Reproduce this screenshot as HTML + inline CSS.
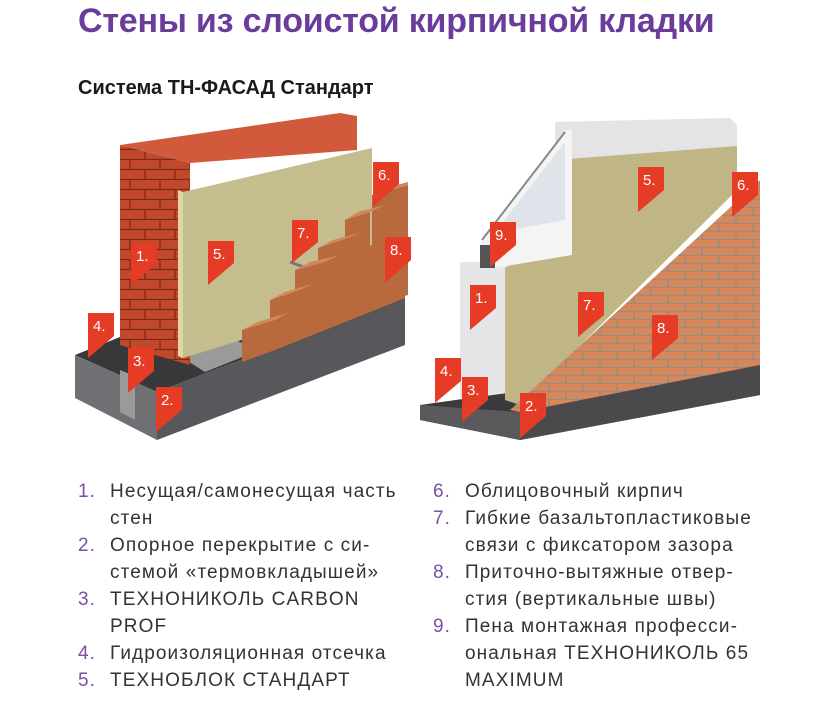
<!DOCTYPE html>
<html><head><meta charset="utf-8"><style>
body{margin:0;width:825px;height:723px;background:#fff;overflow:hidden;position:relative;font-family:"Liberation Sans",sans-serif}
.t{position:absolute;left:78px;top:2px;font-size:34px;font-weight:bold;color:#6a3d9a;white-space:nowrap;letter-spacing:-0.2px}
.s{position:absolute;left:78px;top:77px;font-size:20px;font-weight:bold;color:#1a1a1a;white-space:nowrap}
.l{position:absolute;font-size:19px;color:#333;line-height:27px;letter-spacing:1.1px;white-space:nowrap}
.l div{position:relative;padding-left:32px}
.l span{position:absolute;left:0;color:#7b4fa6}
</style></head><body>
<div class="t">Стены из слоистой кирпичной кладки</div>
<div class="s">Система ТН-ФАСАД Стандарт</div>
<svg width="825" height="723" style="position:absolute;left:0;top:0">
<defs>
<pattern id="br" width="30" height="20" patternUnits="userSpaceOnUse"><rect width="30" height="20" fill="#c2482c"/><path d="M0 9.5H30M0 19.5H30M10 0V9.5M25 9.5V20" stroke="#7a2a1a" stroke-width="1.2"/></pattern>
<pattern id="br2" width="34" height="16" patternUnits="userSpaceOnUse"><rect width="34" height="16" fill="#d8875a"/><path d="M0 7.5H34M0 15.5H34M5 0V7.5M22 7.5V16" stroke="#9a8a80" stroke-width="1.5"/></pattern>
</defs>
<!-- LEFT -->
<polygon points="75,355 120,337 330,280 405,297 157,392" fill="#38383a"/>
<polygon points="75,355 157,392 157,440 75,398" fill="#707074"/>
<polygon points="157,392 405,297 405,345 157,440" fill="#58585c"/>
<polygon points="120,370 135,376 135,420 120,412" fill="#9a9a9a"/>
<polygon points="183,358 235,340 260,350 205,372" fill="#9a9a9a"/>
<polygon points="120,145 190,163 190,365 120,345" fill="url(#br)"/>
<polygon points="120,145 340,113 357,116 357,150 190,163" fill="#d25a3c"/>
<polygon points="178,190 183,192 183,358 178,356" fill="#e0d7a8"/>
<polygon points="183,192 372,148 372,300 183,358" fill="#c6bd8e"/>
<line x1="290" y1="262" x2="325" y2="275" stroke="#777" stroke-width="3"/>
<g fill="#b8693e">
<polygon points="242,330 275,320 275,350 242,362"/>
<polygon points="270,300 300,290 300,330 270,338"/>
<polygon points="295,270 325,262 325,300 295,310"/>
<polygon points="318,248 348,238 348,278 318,287"/>
<polygon points="345,220 370,212 370,250 345,258"/>
<polygon points="372,195 408,185 408,295 372,305"/>
<polygon points="275,320 405,275 405,298 275,350"/>
<polygon points="300,290 380,262 380,290 300,330"/>
<polygon points="325,262 372,245 372,272 325,300"/>
</g>
<g fill="#d0885a">
<polygon points="242,330 258,322 290,312 275,320"/>
<polygon points="270,300 285,292 315,283 300,290"/>
<polygon points="295,270 310,262 340,255 325,262"/>
<polygon points="318,248 333,240 363,232 348,238"/>
<polygon points="345,220 358,212 385,205 370,212"/>
<polygon points="372,195 385,188 408,182 408,185"/>
</g>
<!-- RIGHT -->
<polygon points="555,122 730,118 737,125 737,165 555,175" fill="#e4e4e6"/>
<polygon points="460,262 520,262 520,398 460,398" fill="#e6e6e8"/>
<polygon points="420,405 470,398 760,360 760,395 520,440 420,420" fill="#3a3a3c"/>
<polygon points="420,405 520,412 520,440 420,420" fill="#5a5a5c"/>
<polygon points="520,412 760,365 760,395 520,440" fill="#4a4a4c"/>
<polygon points="505,268 555,240 555,160 737,146 737,190 520,405 505,400" fill="#c0b584"/>
<polygon points="480,245 565,130 572,130 572,255 495,268" fill="#f4f4f4"/>
<polygon points="492,236 565,142 565,220 500,232" fill="#dfe3ea"/>
<line x1="482" y1="240" x2="565" y2="132" stroke="#888" stroke-width="2"/>
<polygon points="480,245 495,245 495,268 480,268" fill="#555"/>
<polygon points="510,410 760,180 760,365 520,412" fill="url(#br2)"/>
<!-- markers -->
<g fill="#e63b24">
<polygon points="131,243 157,243 157,263 131,285"/>
<polygon points="208,241 234,241 234,263 208,285"/>
<polygon points="292,220 318,220 318,242 292,263"/>
<polygon points="373,162 399,162 399,184 373,207"/>
<polygon points="385,237 411,237 411,260 385,283"/>
<polygon points="88,313 114,313 114,336 88,358"/>
<polygon points="128,348 154,348 154,371 128,393"/>
<polygon points="156,387 182,387 182,410 156,432"/>
<polygon points="490,222 516,222 516,245 490,267"/>
<polygon points="470,285 496,285 496,308 470,330"/>
<polygon points="638,167 664,167 664,190 638,212"/>
<polygon points="732,172 758,172 758,195 732,217"/>
<polygon points="578,292 604,292 604,315 578,337"/>
<polygon points="652,315 678,315 678,338 652,360"/>
<polygon points="435,358 461,358 461,381 435,403"/>
<polygon points="462,377 488,377 488,400 462,422"/>
<polygon points="520,393 546,393 546,416 520,438"/>
</g>
<g fill="#fff" font-family="Liberation Sans" font-size="15">
<text x="136" y="261">1.</text><text x="213" y="259">5.</text><text x="297" y="238">7.</text><text x="378" y="180">6.</text><text x="390" y="255">8.</text><text x="93" y="331">4.</text><text x="133" y="366">3.</text><text x="161" y="405">2.</text>
<text x="495" y="240">9.</text><text x="475" y="303">1.</text><text x="643" y="185">5.</text><text x="737" y="190">6.</text><text x="583" y="310">7.</text><text x="657" y="333">8.</text><text x="440" y="376">4.</text><text x="467" y="395">3.</text><text x="525" y="411">2.</text>
</g>
</svg>
<div class="l" style="left:78px;top:478px">
<div><span>1.</span>Несущая/самонесущая часть</div><div>стен</div>
<div><span>2.</span>Опорное перекрытие с си-</div><div>стемой «термовкладышей»</div>
<div><span>3.</span>ТЕХНОНИКОЛЬ CARBON</div><div>PROF</div>
<div><span>4.</span>Гидроизоляционная отсечка</div>
<div><span>5.</span>ТЕХНОБЛОК СТАНДАРТ</div>
</div>
<div class="l" style="left:433px;top:478px">
<div><span>6.</span>Облицовочный кирпич</div>
<div><span>7.</span>Гибкие базальтопластиковые</div><div>связи с фиксатором зазора</div>
<div><span>8.</span>Приточно-вытяжные отвер-</div><div>стия (вертикальные швы)</div>
<div><span>9.</span>Пена монтажная професси-</div><div>ональная ТЕХНОНИКОЛЬ 65</div><div>MAXIMUM</div>
</div>
</body></html>
